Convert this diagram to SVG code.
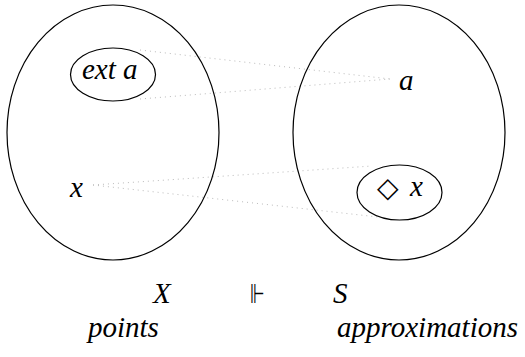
<svg xmlns="http://www.w3.org/2000/svg" width="525" height="357" viewBox="0 0 525 357">
<style>
.big{fill:none;stroke:#000;stroke-width:1.2}
.sm{fill:none;stroke:#000;stroke-width:1.2}
.dot{stroke:#bbb;stroke-width:1;stroke-dasharray:1 4;fill:none}
</style>
<rect width="525" height="357" fill="#fff"/>
<g id="connectors">
<line class="dot" x1="140" y1="50" x2="390" y2="79"/>
<line class="dot" x1="140" y1="99" x2="390" y2="79"/>
<line class="dot" x1="93" y1="185" x2="372" y2="166"/>
<line class="dot" x1="93" y1="185" x2="378" y2="217"/>
</g>
<g id="X-set">
<ellipse class="big" cx="113" cy="132.5" rx="106" ry="127.5"/>
</g>
<g id="S-set">
<ellipse class="big" cx="399" cy="132.5" rx="106" ry="127.5"/>
</g>
<g id="ext-a">
<ellipse class="sm" cx="113" cy="74.5" rx="42.5" ry="26.5"/>
<text x="82" y="79" style="font-family:'Liberation Serif',serif;font-style:italic;font-size:29px">ext a</text>
</g>
<g id="a">
<text x="399" y="90" style="font-family:'Liberation Serif',serif;font-style:italic;font-size:29px">a</text>
</g>
<g id="x">
<text x="70" y="197" style="font-family:'Liberation Serif',serif;font-style:italic;font-size:29px">x</text>
</g>
<g id="diamond-x">
<ellipse class="sm" cx="399.5" cy="192.5" rx="42.5" ry="27.5"/>
<text x="377" y="197" style="font-family:'DejaVu Sans',sans-serif;font-size:28px">◇</text>
<text x="410" y="196" style="font-family:'Liberation Serif',serif;font-style:italic;font-size:29px">x</text>
</g>
<g id="labels">
<text x="153" y="303" style="font-family:'Liberation Serif',serif;font-style:italic;font-size:29px">X</text>
<g transform="translate(250,303) scale(0.62,1)"><text x="0" y="0" style="font-family:'DejaVu Sans',sans-serif;font-size:27px">⊩</text></g>
<text x="333" y="303" style="font-family:'Liberation Serif',serif;font-style:italic;font-size:29px">S</text>
<text x="88" y="337" style="font-family:'Liberation Serif',serif;font-style:italic;font-size:29px">points</text>
<text x="337" y="337" style="font-family:'Liberation Serif',serif;font-style:italic;font-size:29px">approximations</text>
</g>
</svg>
